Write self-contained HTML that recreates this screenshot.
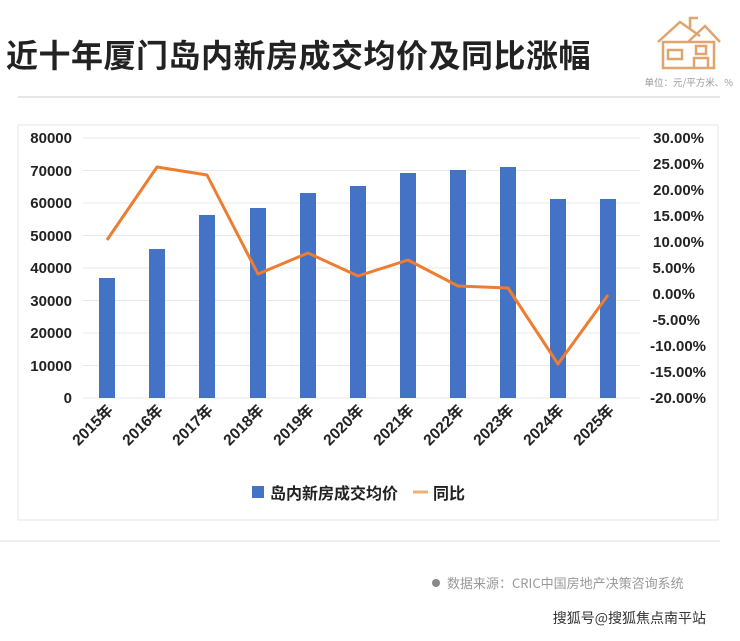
<!DOCTYPE html>
<html><head><meta charset="utf-8"><style>
body{margin:0;width:740px;height:636px;background:#fff;overflow:hidden;font-family:"Liberation Sans","Noto Sans CJK SC",sans-serif;}
</style></head><body>
<svg width="740" height="636" xmlns="http://www.w3.org/2000/svg" font-family="Liberation Sans, Noto Sans CJK SC, sans-serif">
<text x="6" y="67" font-size="32" font-weight="bold" fill="#222" font-family="Noto Sans CJK SC, sans-serif" letter-spacing="0.5">近十年厦门岛内新房成交均价及同比涨幅</text>
<g stroke="#e0a56e" stroke-width="2.5" fill="none">
<path d="M663 42 L663 68 L714 68 L714 42 Z"/><path d="M658 42 L680 22 L700 36 M690 28 L690 18 L698 18"/><path d="M688 42 L705 26 L720 42"/>
<rect x="668" y="50" width="14" height="9"/><rect x="696" y="46" width="10" height="8"/><path d="M694 68 V58 h14 V68"/>
</g>
<text x="733" y="86" font-size="9.5" fill="#999" text-anchor="end" font-family="Noto Sans CJK SC, sans-serif">单位：元/平方米、%</text>
<line x1="18" y1="97" x2="720" y2="97" stroke="#ccc" stroke-width="1"/>
<rect x="18" y="125" width="700" height="395" fill="none" stroke="#e6e6e6"/>
<g stroke="#e8e8e8" stroke-width="1">
<line x1="83" x2="640" y1="138" y2="138"/><line x1="83" x2="640" y1="170.5" y2="170.5"/><line x1="83" x2="640" y1="203" y2="203"/><line x1="83" x2="640" y1="235.5" y2="235.5"/><line x1="83" x2="640" y1="268" y2="268"/><line x1="83" x2="640" y1="300.5" y2="300.5"/><line x1="83" x2="640" y1="333" y2="333"/><line x1="83" x2="640" y1="365.5" y2="365.5"/><line x1="83" x2="640" y1="398" y2="398"/>
</g>
<g font-size="15" font-weight="bold" fill="#222" text-anchor="end">
<text x="72" y="143">80000</text><text x="72" y="176">70000</text><text x="72" y="208">60000</text><text x="72" y="241">50000</text><text x="72" y="273">40000</text><text x="72" y="306">30000</text><text x="72" y="338">20000</text><text x="72" y="371">10000</text><text x="72" y="403">0</text>
</g>
<g font-size="15" font-weight="bold" fill="#222" text-anchor="end">
<text x="704" y="143">30.00%</text><text x="704" y="169">25.00%</text><text x="704" y="195">20.00%</text><text x="704" y="221">15.00%</text><text x="704" y="247">10.00%</text><text x="695" y="273">5.00%</text><text x="695" y="299">0.00%</text><text x="700" y="325">-5.00%</text><text x="706" y="351">-10.00%</text><text x="706" y="377">-15.00%</text><text x="706" y="403">-20.00%</text>
</g>
<g fill="#4472c4">
<rect x="99" y="278" width="16" height="120"/><rect x="149" y="249" width="16" height="149"/><rect x="199" y="215" width="16" height="183"/><rect x="250" y="208" width="16" height="190"/><rect x="300" y="193" width="16" height="205"/><rect x="350" y="186" width="16" height="212"/><rect x="400" y="173" width="16" height="225"/><rect x="450" y="170" width="16" height="228"/><rect x="500" y="167" width="16" height="231"/><rect x="550" y="199" width="16" height="199"/><rect x="600" y="199" width="16" height="199"/>
</g>
<polyline fill="none" stroke="#ed7d31" stroke-width="3" stroke-linejoin="round" points="107,240 157,167 207,175 258,274 308,253 358,276 408,260 458,286 508,288 558,364 608,295"/>
<g font-size="15.5" font-weight="bold" fill="#222" text-anchor="end" font-family="Liberation Sans, Noto Sans CJK SC, sans-serif">
<text transform="translate(114,411) rotate(-45)">2015年</text><text transform="translate(164,411) rotate(-45)">2016年</text><text transform="translate(214,411) rotate(-45)">2017年</text><text transform="translate(265,411) rotate(-45)">2018年</text><text transform="translate(315,411) rotate(-45)">2019年</text><text transform="translate(365,411) rotate(-45)">2020年</text><text transform="translate(415,411) rotate(-45)">2021年</text><text transform="translate(465,411) rotate(-45)">2022年</text><text transform="translate(515,411) rotate(-45)">2023年</text><text transform="translate(565,411) rotate(-45)">2024年</text><text transform="translate(615,411) rotate(-45)">2025年</text>
</g>
<rect x="252" y="486" width="12" height="12" fill="#4472c4"/>
<text x="270" y="499" font-size="16" font-weight="bold" fill="#222" font-family="Noto Sans CJK SC, sans-serif">岛内新房成交均价</text>
<line x1="413" y1="492" x2="428" y2="492" stroke="#f0b070" stroke-width="3"/>
<text x="433" y="499" font-size="16" font-weight="bold" fill="#222" font-family="Noto Sans CJK SC, sans-serif">同比</text>
<line x1="0" y1="541" x2="720" y2="541" stroke="#ddd"/>
<circle cx="436" cy="583" r="4" fill="#888"/>
<text x="447" y="588" font-size="13" fill="#999" font-family="Noto Sans CJK SC, sans-serif">数据来源：CRIC中国房地产决策咨询系统</text>
<text x="706" y="623" font-size="14" fill="#333" text-anchor="end" font-family="Noto Sans CJK SC, sans-serif">搜狐号@搜狐焦点南平站</text>
</svg>
</body></html>
